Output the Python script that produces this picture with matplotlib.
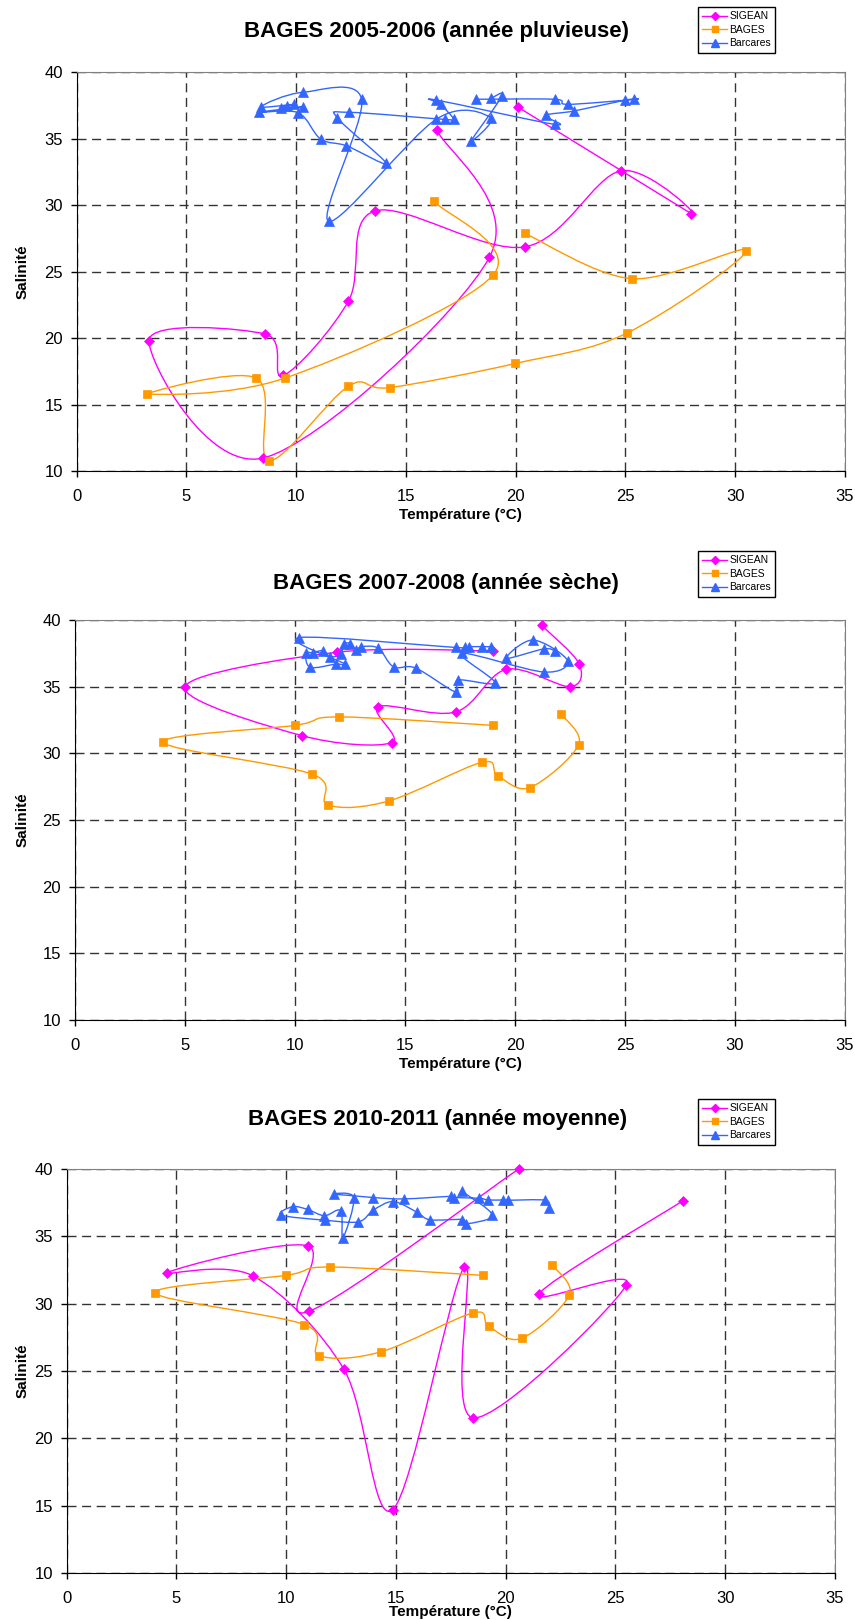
import numpy as np
import matplotlib
matplotlib.use('Agg')
import matplotlib.pyplot as plt
from matplotlib.path import Path
from matplotlib.patches import PathPatch
from matplotlib.lines import Line2D

plt.rcParams['font.family'] = ['Liberation Sans', 'DejaVu Sans']

# ---- data (temperature °C, salinity) ----
# 2005-2006
p1_sigean_temp = [16.4, 18.8, 8.5, 3.29, 8.6, 9.41, 12.38, 13.58, 20.4, 24.79, 27.99, 20.09]
p1_sigean_sal = [35.68, 26.08, 10.98, 19.8, 20.3, 17.19, 22.79, 29.57, 26.86, 32.59, 29.37, 37.39]
p1_bages_temp = [16.28, 18.98, 9.5, 3.19, 8.19, 8.77, 12.38, 14.28, 19.98, 25.09, 30.5, 25.29, 20.4]
p1_bages_sal = [30.28, 24.77, 17.0, 15.78, 16.98, 10.78, 16.38, 16.28, 18.09, 20.4, 26.58, 24.47, 27.89]
p1_barcares_temp = [18.17, 21.78, 22.37, 25.41, 25.0, 22.66, 21.37, 21.78, 16.39, 16.58, 17.18, 16.79,
                    12.39, 11.88, 14.10, 12.29, 11.11, 10.09, 8.32, 10.32, 9.29, 9.59, 9.90, 8.39,
                    10.29, 12.98, 11.49, 16.38, 18.87, 17.97, 19.38, 18.87]
p1_barcares_sal = [37.97, 37.97, 37.59, 37.96, 37.91, 37.09, 36.76, 36.08, 37.91, 37.59, 36.47, 36.45,
                   36.99, 36.56, 33.15, 34.47, 34.98, 36.96, 36.99, 37.39, 37.29, 37.49, 37.59, 37.41,
                   38.49, 37.97, 28.78, 36.47, 36.58, 34.85, 38.24, 38.04]

# 2007-2008
p2_sigean_temp = [21.21, 22.91, 22.5, 19.61, 17.3, 13.79, 14.39, 10.31, 5.0, 11.91, 19.02]
p2_sigean_sal = [39.6, 36.73, 35.0, 36.3, 33.1, 33.5, 30.8, 31.33, 35.0, 37.58, 37.68]
p2_bages_temp = [22.11, 22.89, 20.68, 19.21, 18.5, 14.27, 11.5, 10.79, 4.01, 10.0, 12.0, 19.0]
p2_bages_sal = [32.93, 30.63, 27.43, 28.33, 29.33, 26.43, 26.13, 28.43, 30.83, 32.1, 32.73, 32.1]
p2_barcares_temp = [21.8, 21.30, 19.61, 20.82, 22.39, 21.30, 17.59, 19.09, 17.41, 17.30, 15.48, 14.48,
                    13.79, 13.02, 12.79, 12.49, 12.21, 12.08, 11.61, 11.28, 10.82, 10.49, 10.70, 11.88,
                    12.27, 10.19, 17.30, 17.73, 17.92, 18.48, 18.91]
p2_barcares_sal = [37.7, 37.83, 37.13, 38.5, 36.95, 36.1, 37.5, 35.3, 35.5, 34.6, 36.4, 36.48,
                   37.88, 38.0, 37.75, 38.23, 38.2, 37.43, 37.25, 37.7, 37.55, 37.5, 36.45, 36.7,
                   36.7, 38.68, 37.94, 37.95, 38.0, 38.0, 38.0]

# 2010-2011
p3_sigean_temp = [20.59, 11.02, 10.97, 4.58, 8.5, 12.63, 14.85, 18.11, 18.52, 25.5, 21.5, 28.08]
p3_sigean_sal = [40.0, 29.42, 34.3, 32.3, 32.05, 25.12, 14.7, 32.7, 21.52, 31.4, 30.7, 37.65]
p3_bages_temp = [22.1, 22.9, 20.72, 19.22, 18.52, 14.31, 11.5, 10.82, 4.03, 9.98, 11.98, 18.98]
p3_bages_sal = [32.9, 30.65, 27.42, 28.32, 29.32, 26.42, 26.14, 28.45, 30.8, 32.1, 32.72, 32.1]
p3_barcares_temp = [21.97, 21.80, 20.11, 19.88, 19.20, 18.79, 17.66, 17.5, 15.36, 13.97, 12.18, 13.08,
                    12.58, 12.48, 11.74, 10.97, 10.29, 9.77, 11.76, 13.29, 13.97, 14.88, 15.97, 16.55,
                    18.02, 18.21, 19.39, 18.02]
p3_barcares_sal = [37.13, 37.68, 37.68, 37.7, 37.7, 37.83, 37.88, 37.97, 37.78, 37.88, 38.13, 37.88,
                   34.88, 36.9, 36.53, 37.0, 37.2, 36.58, 36.2, 36.08, 36.95, 37.58, 36.78, 36.23,
                   36.25, 35.93, 36.58, 38.33]

titles = ['BAGES 2005-2006 (année pluvieuse)',
          'BAGES 2007-2008 (année sèche)',
          'BAGES 2010-2011 (année moyenne)']
series_names = ['SIGEAN', 'BAGES', 'Barcares']
colors = ['#FF00FF', '#FF9900', '#3366FF']
markers = ['D', 's', '^']
msizes = [4.6, 5.4, 6.6]


def smooth_path(x, y):
    # Excel-like smoothed line: Catmull-Rom segments as cubic Bezier curves
    pts = np.column_stack([x, y]).astype(float)
    n = len(pts)
    verts = [pts[0]]
    codes = [Path.MOVETO]
    for i in range(n - 1):
        p0 = pts[i - 1] if i > 0 else pts[i]
        p1 = pts[i]
        p2 = pts[i + 1]
        p3 = pts[i + 2] if i + 2 < n else pts[i + 1]
        verts += [p1 + (p2 - p0) / 6, p2 - (p3 - p1) / 6, p2]
        codes += [Path.CURVE4] * 3
    return Path(verts, codes)


W, H = 855, 1620
fig = plt.figure(figsize=(W / 100, H / 100), dpi=100)

panels = [
    # plot box in px (left, right, top, bottom), title centre, legend top-left, xlabel offset
    dict(box=(76.7, 845, 72.3, 471), title=(436, 31), leg=(698, 7), xlab=44,
         data=[(p1_sigean_temp, p1_sigean_sal), (p1_bages_temp, p1_bages_sal),
               (p1_barcares_temp, p1_barcares_sal)]),
    dict(box=(75, 845, 620, 1020), title=(446, 583), leg=(698, 551), xlab=44,
         data=[(p2_sigean_temp, p2_sigean_sal), (p2_bages_temp, p2_bages_sal),
               (p2_barcares_temp, p2_barcares_sal)]),
    dict(box=(66.7, 835, 1169, 1573), title=(438, 1120), leg=(698, 1099), xlab=39,
         data=[(p3_sigean_temp, p3_sigean_sal), (p3_bages_temp, p3_bages_sal),
               (p3_barcares_temp, p3_barcares_sal)]),
]

for k, pan in enumerate(panels):
    l, r, t, b = pan['box']
    ax = fig.add_axes([l / W, 1 - b / H, (r - l) / W, (b - t) / H])
    ax.set_xlim(0, 35)
    ax.set_ylim(10, 40)
    ax.set_xticks(range(0, 36, 5))
    ax.set_yticks(range(10, 41, 5))
    ax.set_axisbelow(True)
    ax.grid(True, color='#333333', linestyle=(0, (6.5, 4)), linewidth=1.0)

    for i, (tx, sy) in enumerate(pan['data']):
        ax.add_patch(PathPatch(smooth_path(tx, sy), facecolor='none',
                               edgecolor=colors[i], linewidth=1.0, zorder=3))
        ax.plot(tx, sy, linestyle='none', marker=markers[i], ms=msizes[i],
                color=colors[i], markeredgewidth=0.5, zorder=4, clip_on=False)

    for s in ['top', 'right']:
        ax.spines[s].set_color('#808080')
    for s in ['left', 'bottom']:
        ax.spines[s].set_color('black')
    ax.tick_params(direction='out', length=4, width=1, labelsize=12, pad=9)
    ax.tick_params(axis='y', pad=6)

    ax.set_xlabel('Température (°C)', fontsize=11, fontweight='bold')
    ax.xaxis.set_label_coords(0.5, -pan['xlab'] / (b - t))
    ax.xaxis.label.set_va('center')
    ax.set_ylabel('Salinité', fontsize=11, fontweight='bold')
    ax.yaxis.set_label_coords(-(l - 23) / (r - l), 0.5)
    ax.yaxis.label.set_va('center')

    fig.text(pan['title'][0] / W, 1 - pan['title'][1] / H, titles[k],
             fontsize=16, fontweight='bold', ha='center', va='center')

    handles = [Line2D([], [], color=colors[i], marker=markers[i], ms=msizes[i] * 0.8,
                      lw=1.0) for i in range(3)]
    lx, ly = pan['leg']
    leg = ax.legend(handles, series_names, loc='upper left',
                    bbox_to_anchor=(lx / W, 1 - ly / H), bbox_transform=fig.transFigure,
                    fontsize=7.5, frameon=True, fancybox=False, edgecolor='black',
                    framealpha=1, borderpad=0.4, labelspacing=0.35, handlelength=2.4,
                    handletextpad=0.2, borderaxespad=0)
    leg.get_frame().set_linewidth(1.0)

fig.savefig('out.png', dpi=100)
